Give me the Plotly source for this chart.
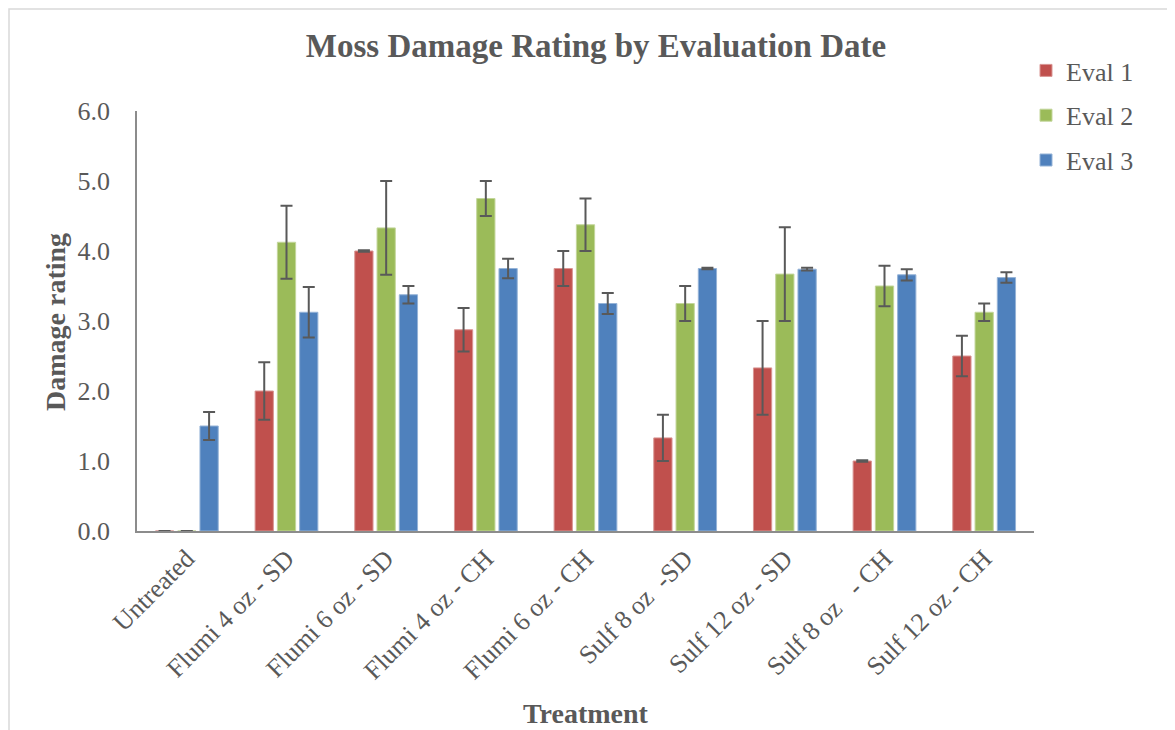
import plotly.graph_objects as go

categories = ["Untreated", "Flumi 4 oz - SD", "Flumi 6 oz - SD", "Flumi 4 oz - CH",
              "Flumi 6 oz - CH", "Sulf 8 oz  -SD", "Sulf 12 oz - SD", "Sulf 8 oz   - CH",
              "Sulf 12 oz - CH"]
series_names = ["Eval 1", "Eval 2", "Eval 3"]
eval1 = [0.0, 2.0, 4.0, 2.875, 3.75, 1.33, 2.33, 1.0, 2.5]
eval1_err = [0.0, 0.41, 0.01, 0.31, 0.25, 0.33, 0.67, 0.01, 0.29]
eval2 = [0.0, 4.125, 4.33, 4.75, 4.375, 3.25, 3.67, 3.5, 3.125]
eval2_err = [0.0, 0.52, 0.67, 0.25, 0.375, 0.25, 0.67, 0.29, 0.125]
eval3 = [1.5, 3.125, 3.375, 3.75, 3.25, 3.75, 3.74, 3.66, 3.62]
eval3_err = [0.2, 0.36, 0.125, 0.14, 0.15, 0.01, 0.02, 0.08, 0.075]
y_ticks = [0, 1, 2, 3, 4, 5, 6]

colors = ["#C0504D", "#9BBB59", "#4F81BD"]
edge_colors = ["#D99694", "#C3D69B", "#95B3D7"]
values = [eval1, eval2, eval3]
errors = [eval1_err, eval2_err, eval3_err]

FONT = "Liberation Serif, Times New Roman, serif"
GREY = "#595959"

fig = go.Figure()
for i in range(3):
    fig.add_trace(go.Bar(
        name=series_names[i], x=categories, y=values[i],
        marker=dict(color=colors[i], line=dict(color=edge_colors[i], width=1)),
        error_y=dict(type="data", array=errors[i], visible=True,
                     color=GREY, thickness=2, width=6),
        legendgroup=series_names[i],
    ))

# page offset (browser body margin)
OFF = 8
W, H = 1175, 730
# plot area in screen pixels
L, R, T, B = 137, 1034, 111, 531
pw, ph = R - L, B - T

def px(xs):
    return (xs - L) / pw

def py(ys):
    return (B - ys) / ph

fig.add_shape(type="rect", xref="paper", yref="paper",
              x0=px(9), x1=px(1190), y0=py(9), y1=py(745),
              line=dict(color="#D9D9D9", width=1.5), fillcolor="rgba(0,0,0,0)", layer="below")

fig.add_annotation(text="<b>Treatment</b>", xref="paper", yref="paper",
                   x=px(586), y=py(713), xanchor="center", yanchor="middle",
                   showarrow=False, font=dict(family=FONT, size=28, color=GREY))
fig.add_annotation(text="<b>Damage rating</b>", xref="paper", yref="paper",
                   x=px(55), y=py(322), xanchor="center", yanchor="middle",
                   textangle=-90, showarrow=False,
                   font=dict(family=FONT, size=28, color=GREY))

fig.update_layout(
    width=W, height=H,
    margin=dict(l=L - OFF, r=W - (R - OFF), t=T - OFF, b=H - (B - OFF), autoexpand=False),
    paper_bgcolor="white", plot_bgcolor="white",
    barmode="group", bargap=0.33, bargroupgap=0.18,
    font=dict(family=FONT, color=GREY, size=26),
    showlegend=True,
    title=dict(text="<b>Moss Damage Rating by Evaluation Date</b>",
               x=(596 - OFF) / W, xanchor="center", y=1 - (45 - OFF) / H, yanchor="middle",
               font=dict(family=FONT, size=33, color=GREY)),
    legend=dict(x=px(1026), xanchor="left", y=py(47), yanchor="top",
                font=dict(family=FONT, size=26, color=GREY),
                tracegroupgap=8, traceorder="grouped",
                bgcolor="rgba(0,0,0,0)", itemwidth=30),
    xaxis=dict(showline=True, linecolor="#8C8C8C", linewidth=2,
               tickangle=-45, ticks="", showgrid=False,
               tickfont=dict(family=FONT, size=26, color=GREY),
               automargin=False),
    yaxis=dict(range=[0, 6], tickvals=y_ticks, tickformat=".1f",
               showline=True, linecolor="#8C8C8C", linewidth=1.5,
               ticks="", showgrid=False, zeroline=False,
               ticklabelstandoff=20,
               tickfont=dict(family=FONT, size=26, color=GREY),
               automargin=False),
)

fig.write_html("out.html")
